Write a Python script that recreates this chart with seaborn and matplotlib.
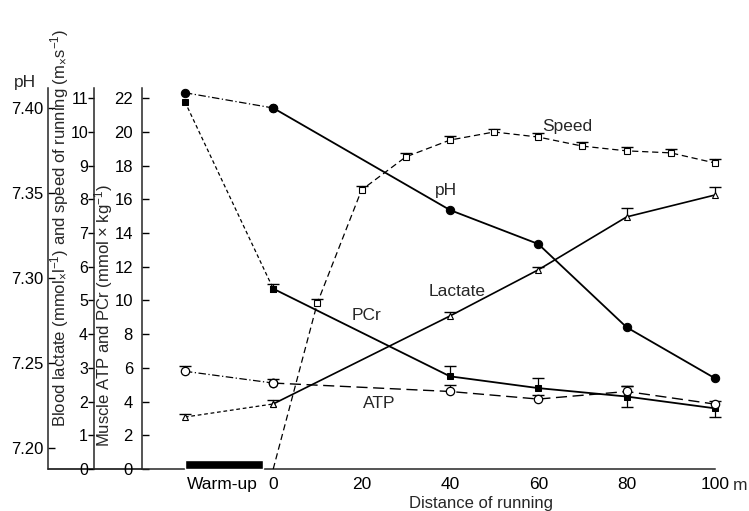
import matplotlib
matplotlib.use("Agg")
import matplotlib.pyplot as plt
from matplotlib.lines import Line2D
import seaborn as sns
import numpy as np

# ---- data -------------------------------------------------------------
warmup_x = -20                      # warm-up sample position on the distance axis
dist = [0, 40, 60, 80, 100]         # m
speed_dist = [0, 10, 20, 30, 40, 50, 60, 70, 80, 90, 100]

ph_warm = 7.409
ph_run = [7.400, 7.340, 7.320, 7.271, 7.241]

pcr_warm = 21.8                     # mmol x kg-1
pcr_run = [10.7, 5.5, 4.8, 4.3, 3.6]
pcr_up = [0.0, 0.3, 0.6, 0.6, 0.6, 0.0]
pcr_lo = [0.0, 0.0, 0.0, 0.0, 0.6, 0.5]

atp_warm = 5.8                      # mmol x kg-1
atp_run = [5.1, 4.6, 4.15, 4.6, 3.85]
atp_up = [0.3, 0.25, 0.4, 0.25, 0.35, 0.2]
atp_lo = [0, 0, 0, 0, 0, 0]

lac_warm = 1.54                     # mmol x l-1
lac_run = [1.93, 4.54, 5.91, 7.48, 8.13]
lac_up = [0.1, 0.12, 0.12, 0.08, 0.27, 0.24]
lac_lo = [0, 0, 0, 0, 0, 0]

speed = [0.0, 4.93, 8.28, 9.26, 9.76, 10.0, 9.85, 9.58, 9.44, 9.38, 9.08]   # m x s-1
speed_up = [0, 0.12, 0.12, 0.12, 0.12, 0.1, 0.12, 0.12, 0.12, 0.12, 0.12]

warmup_bar = (-20, -2.3, 0.27)      # start, end, height (lactate units)

xtick_pos = [-11.6, 0, 20, 40, 60, 80, 100]
xtick_lab = ["Warm-up", "0", "20", "40", "60", "80", "100"]

# ---- style ------------------------------------------------------------
sns.set_theme(style="white")
plt.rcParams["font.family"] = ["Liberation Sans", "DejaVu Sans"]
plt.rcParams["mathtext.default"] = "regular"
plt.rcParams["axes.linewidth"] = 1.1

W, H = 749, 511
fig = plt.figure(figsize=(W / 100, H / 100), dpi=100)

# axes box: left spine at 142 px, right end 715 px, bottom 469 px, top 88 px
L, R, B, T = 142, 715, 469, 88
ax = fig.add_axes([L / W, 1 - B / H, (R - L) / W, (B - T) / H])
ax.patch.set_alpha(0)
ax_lac = ax.twinx()
ax_ph = ax.twinx()

ax.set_xlim(-29.7, 100)
ax.set_ylim(0, 22.61)
ax_lac.set_ylim(0, 22.61 / 2)
ax_ph.set_ylim(7.20 - 21 / 1700, 7.40 + 20 / 1700)

for a in (ax, ax_lac, ax_ph):
    a.grid(False)
    a.spines["top"].set_visible(False)
    a.spines["right"].set_visible(False)
for a in (ax_lac, ax_ph):
    a.spines["bottom"].set_visible(False)
    a.yaxis.set_ticks_position("left")
    a.yaxis.set_label_position("left")
    a.spines["left"].set_visible(True)

ax_lac.spines["left"].set_position(("axes", (94 - L) / (R - L)))
ax_ph.spines["left"].set_position(("axes", (48 - L) / (R - L)))

# y ticks
ax.set_yticks(np.arange(0, 23, 2))
ax.tick_params(axis="y", direction="in", length=5, width=1, pad=6.5, labelsize=12, colors="black")
ax_lac.set_yticks(np.arange(0, 12, 1))
ax_lac.tick_params(axis="y", direction="out", length=4, width=1, pad=0.3, labelsize=11.5, colors="black")
ax_ph.set_yticks([7.20, 7.25, 7.30, 7.35, 7.40])
ax_ph.set_yticklabels(["7.20", "7.25", "7.30", "7.35", "7.40"])
ax_ph.tick_params(axis="y", direction="in", length=5, width=1, pad=3.5, labelsize=12, colors="black")
ax_ph.set_yticks([], minor=True)

# x ticks
ax.set_xticks(xtick_pos)
ax.set_xticklabels(xtick_lab)
ax.tick_params(axis="x", direction="in", length=7, width=1, pad=6, labelsize=12.5, colors="black")
for t in ax.xaxis.get_major_ticks()[:2]:
    t.tick1line.set_visible(False)
ax.annotate("m", xy=(100, 0), xycoords="data", xytext=(13, -6.5), textcoords="offset points",
            ha="left", va="top", fontsize=12.5, annotation_clip=False)

# bottom line continues to the pH axis
ax.add_line(Line2D([(48 - L) / (R - L), 0], [0, 0], transform=ax.transAxes,
                   color="black", lw=1.1, clip_on=False))

# ---- marks ------------------------------------------------------------
def whiskers(a, x, y, up, lo, z=3):
    x, y, up, lo = map(np.asarray, (x, y, up, lo))
    for xi, yi, u, l in zip(x, y, up, lo):
        if u > 0:
            a.plot([xi, xi], [yi, yi + u], color="black", lw=0.9, zorder=z, clip_on=False)
            a.plot([xi], [yi + u], marker="_", ms=8, mew=1.0, color="black", zorder=z, clip_on=False)
        if l > 0:
            a.plot([xi, xi], [yi, yi - l], color="black", lw=0.9, zorder=z, clip_on=False)
            a.plot([xi], [yi - l], marker="_", ms=8, mew=1.0, color="black", zorder=z, clip_on=False)

k = dict(color="black", clip_on=False, zorder=4)
dash_dot = (0, (6, 2, 1, 2))
fine_dash = (0, (3, 2.2))
long_dash = (0, (8, 4))

# pH
sns.lineplot(x=[warmup_x, 0], y=[ph_warm, ph_run[0]], ax=ax_ph, lw=0.9, linestyle=dash_dot,
             marker="o", ms=6, mfc="black", mec="black", **k)
sns.lineplot(x=dist, y=ph_run, ax=ax_ph, lw=1.3, marker="o", ms=6, mfc="black", mec="black", **k)

# PCr
whiskers(ax, [warmup_x] + dist, [pcr_warm] + pcr_run, pcr_up, pcr_lo)
sns.lineplot(x=[warmup_x, 0], y=[pcr_warm, pcr_run[0]], ax=ax, lw=0.9, linestyle=fine_dash,
             marker="s", ms=4.5, mfc="black", mec="black", **k)
sns.lineplot(x=dist, y=pcr_run, ax=ax, lw=1.3, marker="s", ms=4.5, mfc="black", mec="black", **k)

# ATP
whiskers(ax, [warmup_x] + dist, [atp_warm] + atp_run, atp_up, atp_lo)
sns.lineplot(x=[warmup_x, 0], y=[atp_warm, atp_run[0]], ax=ax, lw=0.9, linestyle=dash_dot,
             marker="o", ms=6, mfc="white", mec="black", mew=0.9, **k)
sns.lineplot(x=dist, y=atp_run, ax=ax, lw=1.0, linestyle=long_dash,
             marker="o", ms=6, mfc="white", mec="black", mew=0.9, **k)

# lactate
whiskers(ax_lac, [warmup_x] + dist, [lac_warm] + lac_run, lac_up, lac_lo)
sns.lineplot(x=[warmup_x, 0], y=[lac_warm, lac_run[0]], ax=ax_lac, lw=0.9, linestyle=fine_dash,
             marker="^", ms=5, mfc="white", mec="black", mew=0.8, **k)
sns.lineplot(x=dist, y=lac_run, ax=ax_lac, lw=1.2, marker="^", ms=5, mfc="white", mec="black", mew=0.8, **k)

# speed
whiskers(ax_lac, speed_dist[1:], speed[1:], speed_up[1:], [0] * 10)
sns.lineplot(x=speed_dist, y=speed, ax=ax_lac, lw=0.9, linestyle=(0, (5, 3)), **k)
sns.lineplot(x=speed_dist[1:], y=speed[1:], ax=ax_lac, lw=0, marker="s", ms=4.5,
             mfc="white", mec="black", mew=0.8, **k)

# warm-up period bar
ax_lac.bar(warmup_bar[0], warmup_bar[2], width=warmup_bar[1] - warmup_bar[0], align="edge",
           color="black", zorder=2, clip_on=False)

# curve names
for txt, x, y in [("Speed", 66.6, 10.15), ("pH", 39.2, 8.25), ("Lactate", 41.7, 5.28),
                  ("PCr", 21.1, 4.55), ("ATP", 24.0, 1.93)]:
    ax_lac.text(x, y, txt, ha="center", va="center", fontsize=12.5)

# axis titles (rotated titles anchored on their baseline)
fig.text(25 / W, 1 - 82 / H, "pH", ha="center", va="center", fontsize=12.5)
fig.text(65.5 / W, 1 - 228 / H,
         r"Blood lactate (mmol$_{\times}$l$^{-1}$) and speed of running (m$_{\times}$s$^{-1}$)",
         rotation=90, rotation_mode="anchor", ha="center", va="baseline", fontsize=12)
fig.text(109.5 / W, 1 - 316 / H, r"Muscle ATP and PCr (mmol $\times$ kg$^{-1}$)",
         rotation=90, rotation_mode="anchor", ha="center", va="baseline", fontsize=12)
fig.text(481 / W, 1 - 496 / H, "Distance of running", ha="center", va="top", fontsize=12)

fig.savefig("out.png", dpi=100)
